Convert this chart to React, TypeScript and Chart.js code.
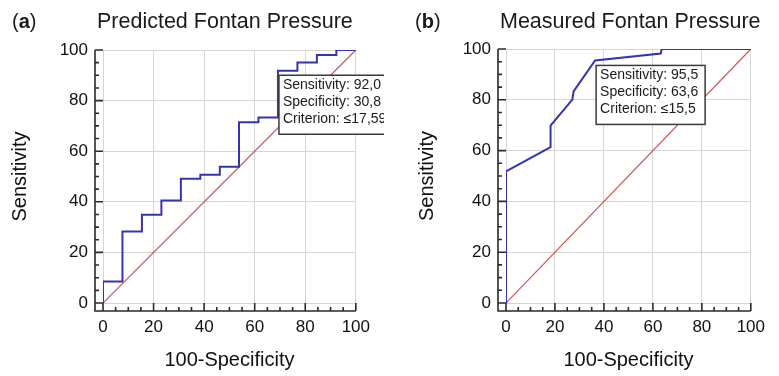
import React, { useEffect, useRef } from "react";
import { Chart, registerables } from "chart.js";

Chart.register(...registerables);

// ---- data ----
// Panel (a): Predicted Fontan Pressure — ROC vertices (100-Specificity, Sensitivity), step curve
const rocAX = [0, 0, 7.7, 15.4, 23.1, 30.8, 38.5, 46.2, 53.8, 61.5, 69.2, 76.9, 84.6, 92.3, 100];
const rocAY = [0, 8.5, 28.3, 34.9, 40.5, 49.1, 50.7, 53.9, 71.4, 73.3, 91.8, 95.1, 98.0, 100, 100];
const critA = { x: 69.2, y: 92.0 };
const boxA = ["Sensitivity: 92,0", "Specificity: 30,8", "Criterion: \u226417,59"];

// Panel (b): Measured Fontan Pressure — ROC vertices, straight segments
const rocBX = [0, 0, 18.2, 18.2, 27.1, 27.6, 36.4, 63.2, 63.6, 100];
const rocBY = [0, 51.8, 61.4, 69.8, 80.1, 83.3, 95.5, 98.2, 100, 100];
const critB = { x: 36.4, y: 95.5 };
const boxB = ["Sensitivity: 95,5", "Specificity: 63,6", "Criterion: \u226415,5"];

const diagX = [0, 100];
const diagY = [0, 100];

const axisMin = 0;
const axisMax = 100;
const majorStep = 20;
const minorStep = 5;

const FONT = "'Liberation Sans', Arial, Helvetica, sans-serif";

const toPts = (xs: number[], ys: number[]) => xs.map((x, i) => ({ x, y: ys[i] }));

const axesPlugin = {
  id: "medAxes",
  afterDraw(chart: any) {
    const { ctx, chartArea: a, scales } = chart;
    const x = scales.x, y = scales.y;
    const gap = 8;
    const ax = a.left - gap;
    const ay = a.bottom + gap;
    ctx.save();
    ctx.strokeStyle = "#2a2a2a";
    ctx.lineWidth = 1.6;
    ctx.beginPath();
    ctx.moveTo(ax, y.getPixelForValue(axisMax));
    ctx.lineTo(ax, ay);
    ctx.lineTo(x.getPixelForValue(axisMax), ay);
    for (let v = axisMin; v <= axisMax; v += minorStep) {
      const len = v % majorStep === 0 ? gap : 4;
      const py = y.getPixelForValue(v);
      ctx.moveTo(ax, py);
      ctx.lineTo(ax + len, py);
      const px = x.getPixelForValue(v);
      ctx.moveTo(px, ay);
      ctx.lineTo(px, ay - len);
    }
    ctx.stroke();
    ctx.restore();
  },
};

const boxPlugin = {
  id: "critBox",
  afterDatasetsDraw(chart: any, _args: any, opts: any) {
    if (!opts || !opts.lines) return;
    const { ctx, scales } = chart;
    const bx = scales.x.getPixelForValue(opts.crit.x) + 1;
    const by = scales.y.getPixelForValue(opts.crit.y) + 5;
    ctx.save();
    ctx.font = `14px ${FONT}`;
    let w = 0;
    for (const l of opts.lines) w = Math.max(w, ctx.measureText(l).width);
    const bw = Math.round(w + 11);
    const bh = 59;
    ctx.fillStyle = "#ffffff";
    ctx.fillRect(bx, by, bw, bh);
    ctx.strokeStyle = "#3a3a3a";
    ctx.lineWidth = 1.5;
    ctx.strokeRect(bx, by, bw, bh);
    ctx.fillStyle = "#1a1a1a";
    ctx.textBaseline = "middle";
    ctx.textAlign = "left";
    opts.lines.forEach((l: string, i: number) => {
      ctx.fillText(l, bx + 4, by + 10 + i * 16.8);
    });
    ctx.restore();
  },
};

const headPlugin = {
  id: "head",
  afterDraw(chart: any, _args: any, opts: any) {
    if (!opts || !opts.title) return;
    const { ctx } = chart;
    ctx.save();
    ctx.fillStyle = "#1a1a1a";
    ctx.textBaseline = "alphabetic";
    ctx.textAlign = "left";
    let x = opts.labelX;
    const base = 28;
    ctx.font = `20px ${FONT}`;
    ctx.fillText("(", x, base);
    x += ctx.measureText("(").width;
    ctx.font = `bold 20px ${FONT}`;
    ctx.fillText(opts.letter, x, base);
    x += ctx.measureText(opts.letter).width;
    ctx.font = `20px ${FONT}`;
    ctx.fillText(")", x, base);
    ctx.font = `21.5px ${FONT}`;
    ctx.fillText(opts.title, opts.titleX, base);
    ctx.restore();
  },
};

function makeConfig(p: {
  curve: { x: number; y: number }[];
  stepped: boolean;
  crit: { x: number; y: number };
  lines: string[];
  yWidth: number;
  rightPad: number;
  top: number;
  yTitlePad: number;
  letter: string;
  title: string;
  labelX: number;
  titleX: number;
}): any {
  const tickFont = { family: FONT, size: 17 };
  const titleFont = { family: FONT, size: 20 };
  return {
    type: "line",
    data: {
      datasets: [
        {
          data: p.curve,
          borderColor: "#3434b2",
          borderWidth: 2,
          pointRadius: 0,
          stepped: p.stepped ? "before" : false,
          tension: 0,
          order: 1,
        },
        {
          data: toPts(diagX, diagY),
          borderColor: "#d05050",
          borderWidth: 1.2,
          pointRadius: 0,
          stepped: false,
          order: 2,
        },
      ],
    },
    options: {
      animation: false,
      responsive: false,
      events: [],
      layout: { padding: { top: p.top, right: p.rightPad, left: 0, bottom: 0 } },
      plugins: {
        legend: { display: false },
        tooltip: { enabled: false },
        critBox: { crit: p.crit, lines: p.lines },
        head: { letter: p.letter, title: p.title, labelX: p.labelX, titleX: p.titleX },
      },
      scales: {
        x: {
          type: "linear",
          min: axisMin,
          max: axisMax,
          ticks: { stepSize: majorStep, padding: 14, font: tickFont, color: "#111" },
          grid: { color: "#d6d6d6", lineWidth: 1, drawTicks: false },
          border: { display: false },
          title: {
            display: true,
            text: "100-Specificity",
            font: titleFont,
            color: "#111",
            padding: { top: 0, bottom: 4 },
          },
          afterFit: (s: any) => {
            s.height = 376 - 303;
          },
        },
        y: {
          type: "linear",
          min: axisMin,
          max: axisMax,
          ticks: { stepSize: majorStep, padding: 15, font: tickFont, color: "#111" },
          grid: { color: "#d6d6d6", lineWidth: 1, drawTicks: false },
          border: { display: false },
          title: {
            display: true,
            text: "Sensitivity",
            font: titleFont,
            color: "#111",
            padding: { top: p.yTitlePad, bottom: 0 },
          },
          afterFit: (s: any) => {
            s.width = p.yWidth;
          },
        },
      },
    },
    plugins: [axesPlugin, boxPlugin, headPlugin],
  };
}

function Panel(props: { left: number; width: number; cfg: any }) {
  const ref = useRef<HTMLCanvasElement | null>(null);
  useEffect(() => {
    if (!ref.current) return;
    const chart = new Chart(ref.current, props.cfg);
    return () => chart.destroy();
  }, []);
  return (
    <canvas
      ref={ref}
      width={props.width}
      height={376}
      style={{ position: "absolute", left: props.left, top: 0, width: props.width, height: 376, display: "block" }}
    />
  );
}

export default function App() {
  const cfgA = makeConfig({
    curve: toPts(rocAX, rocAY),
    stepped: true,
    crit: critA,
    lines: boxA,
    yWidth: 103,
    rightPad: 384 - 356,
    top: 50,
    yTitlePad: 8,
    letter: "a",
    title: "Predicted Fontan Pressure",
    labelX: 12,
    titleX: 97,
  });
  const cfgB = makeConfig({
    curve: toPts(rocBX, rocBY),
    stepped: false,
    crit: critB,
    lines: boxB,
    yWidth: 506 - 392,
    rightPad: 779 - 759,
    top: 49,
    yTitlePad: 23,
    letter: "b",
    title: "Measured Fontan Pressure",
    labelX: 415 - 392,
    titleX: 500 - 392,
  });
  return (
    <div style={{ position: "absolute", left: 0, top: 0, width: 779, height: 376, background: "#fff", overflow: "hidden" }}>
      <Panel left={0} width={384} cfg={cfgA} />
      <Panel left={392} width={387} cfg={cfgB} />
    </div>
  );
}
